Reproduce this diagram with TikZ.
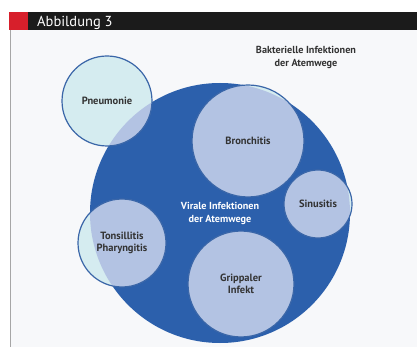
\documentclass[tikz,border=0pt]{standalone}
\usepackage{fontspec}
\setmainfont{PT Sans}
\definecolor{bigblue}{HTML}{2C60AC}
\definecolor{lav}{HTML}{B3C3E3}
\definecolor{cyanf}{HTML}{D5ECF0}
\definecolor{ring}{HTML}{3A66A8}
\definecolor{txtgrey}{HTML}{333333}
\definecolor{panel}{HTML}{F7F8FA}
\definecolor{hdrred}{HTML}{D71F2B}
\definecolor{hdrblack}{HTML}{1B1B1B}
\begin{document}
\begin{tikzpicture}[x=1pt,y=-1pt,
  sub/.style={circle, draw=ring, line width=1.2pt, fill=cyanf, inner sep=0pt,
    minimum size=#1, align=center, text=txtgrey,
    font=\fontsize{10.5}{12.5}\selectfont\bfseries,
    path picture={\fill[lav] (vc) circle[radius=130pt];}},
  lbl/.style={align=center, font=\fontsize{10.2}{13}\selectfont\bfseries}]
\useasboundingbox (0,0) rectangle (417,347);
% panel and header
\fill[panel] (10,30) rectangle (417,347);
\draw[gray!70, line width=0.8pt] (10,30) -- (10,347);
\fill[hdrred] (9,12) rectangle (27.5,30);
\fill[hdrblack] (28,12) rectangle (417,30);
\node[anchor=base west, text=white, font=\fontsize{14.5}{15}\selectfont, inner sep=0] (title) at (37,27) {Abbildung 3};
% big viral circle
\node[circle, fill=bigblue, minimum size=260pt, inner sep=0, text=white, lbl] (viral) at (220,213) {Virale Infektionen\\der Atemwege};
\coordinate (vc) at (viral.center);
% bacterial label
\node[lbl, text=txtgrey] (bakt) at (306,57) {Bakterielle Infektionen\\der Atemwege};
% small circles
\node[sub=90pt] (pneu) at (107,101) {Pneumonie};
\node[sub=112pt] (bron) at (248,141) {Bronchitis};
\node[sub=68pt] (sinu) at (318,204) {Sinusitis};
\node[sub=88pt] (tons) at (122,243) {Tonsillitis\\Pharyngitis};
\node[sub=106pt] (grip) at (241,284) {Grippaler\\Infekt};
\end{tikzpicture}
\end{document}
